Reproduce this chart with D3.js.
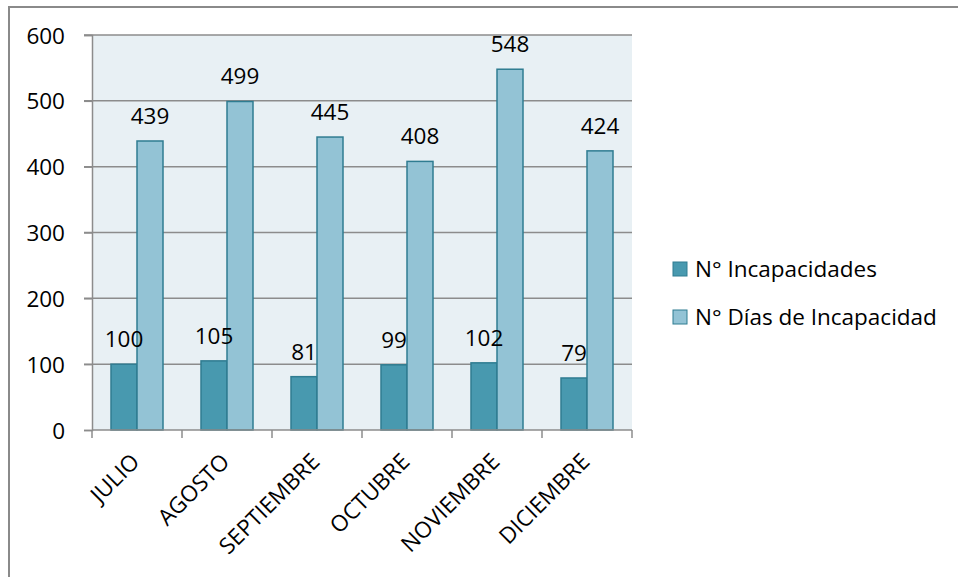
<!DOCTYPE html>
<html>
<head>
<meta charset="utf-8">
<script src="https://cdn.jsdelivr.net/npm/d3@7/dist/d3.min.js"></script>
<style>
  html, body { margin: 0; padding: 0; background: #fff; }
  svg { display: block; }
  text { font-family: "Open Sans", "Noto Sans", sans-serif; fill: #000; }
</style>
</head>
<body>
<svg id="chart" width="958" height="577"></svg>
<script>
const categories = ["JULIO", "AGOSTO", "SEPTIEMBRE", "OCTUBRE", "NOVIEMBRE", "DICIEMBRE"];
const incapacidades = [100, 105, 81, 99, 102, 79];
const diasIncapacidad = [439, 499, 445, 408, 548, 424];
const seriesNames = ["N° Incapacidades", "N° Días de Incapacidad"];
const yTicks = [0, 100, 200, 300, 400, 500, 600];

const colors = ["#4899AF", "#93C3D5"];
const strokeColor = "#2F7C91";
const FS = 22.5;

const svg = d3.select("#chart");
const W = 958, H = 577;

// outer frame
svg.append("rect").attr("x", 9).attr("y", 7).attr("width", W).attr("height", H)
  .attr("fill", "#fff").attr("stroke", "#8a8a8a").attr("stroke-width", 2);

const plot = { left: 92, right: 632, top: 35, bottom: 430 };

const x = d3.scaleBand().domain(categories).range([plot.left, plot.right]).paddingInner(0).paddingOuter(0);
const y = d3.scaleLinear().domain([0, 600]).range([plot.bottom, plot.top]);

// plot background
svg.append("rect")
  .attr("x", plot.left).attr("y", plot.top)
  .attr("width", plot.right - plot.left).attr("height", plot.bottom - plot.top)
  .attr("fill", "#E8F0F4");

// gridlines
svg.append("g").selectAll("line").data(yTicks.filter(d => d > 0)).join("line")
  .attr("x1", plot.left - 8).attr("x2", plot.right)
  .attr("y1", d => y(d)).attr("y2", d => y(d))
  .attr("stroke", "#8c8c8c").attr("stroke-width", 1.5);

// y axis
const yAxis = d3.axisLeft(y).tickValues(yTicks).tickSize(8).tickPadding(19).tickFormat(d3.format("d"));
const gy = svg.append("g").attr("transform", `translate(${plot.left},0)`).call(yAxis);
gy.attr("font-size", FS).attr("font-family", '"Open Sans", sans-serif');
gy.select(".domain").attr("stroke", "#8c8c8c").attr("stroke-width", 1.5);
gy.selectAll(".tick line").attr("stroke", "#8c8c8c").attr("stroke-width", 1.5);
gy.selectAll(".tick text").attr("dy", "0.36em").attr("fill", "#000");

// bars
const series = [incapacidades, diasIncapacidad];
const bw = 26;
const barsG = svg.append("g");
const labelsG = svg.append("g");
series.forEach((vals, si) => {
  const offset = (x.bandwidth() - 2 * bw) / 2 + si * bw;
  barsG.append("g").selectAll("rect").data(vals).join("rect")
    .attr("x", (d, i) => x(categories[i]) + offset)
    .attr("y", d => y(d))
    .attr("width", bw)
    .attr("height", d => y(0) - y(d))
    .attr("fill", colors[si])
    .attr("stroke", strokeColor).attr("stroke-width", 1.5);
  labelsG.append("g").selectAll("text").data(vals).join("text")
    .attr("x", (d, i) => x(categories[i]) + offset + bw / 2)
    .attr("y", d => y(d) - 17)
    .attr("text-anchor", "middle")
    .attr("font-size", FS)
    .text(d => d);
});

// x axis
const xAxisLine = svg.append("g");
xAxisLine.append("line").attr("x1", plot.left).attr("x2", plot.right)
  .attr("y1", plot.bottom).attr("y2", plot.bottom)
  .attr("stroke", "#8c8c8c").attr("stroke-width", 1.5);
const boundaries = categories.map(c => x(c)).concat([x(categories[categories.length - 1]) + x.bandwidth()]);
xAxisLine.selectAll("line.t").data(boundaries).join("line").attr("class", "t")
  .attr("x1", d => d).attr("x2", d => d)
  .attr("y1", plot.bottom).attr("y2", plot.bottom + 8)
  .attr("stroke", "#8c8c8c").attr("stroke-width", 1.5);

svg.append("g").selectAll("text").data(categories).join("text")
  .attr("transform", d => `translate(${x(d) + x.bandwidth() / 2 + 4},${463}) rotate(-45)`)
  .attr("text-anchor", "end")
  .attr("font-size", FS)
  .text(d => d);

// legend
const legend = svg.append("g").attr("transform", "translate(673,262)");
seriesNames.forEach((name, i) => {
  const g = legend.append("g").attr("transform", `translate(0,${i * 48})`);
  g.append("rect").attr("x", 0).attr("y", 0).attr("width", 14).attr("height", 14)
    .attr("fill", colors[i]).attr("stroke", strokeColor).attr("stroke-width", 1);
  g.append("text").attr("x", 22).attr("y", 15).attr("font-size", FS).text(name);
});
</script>
</body>
</html>
